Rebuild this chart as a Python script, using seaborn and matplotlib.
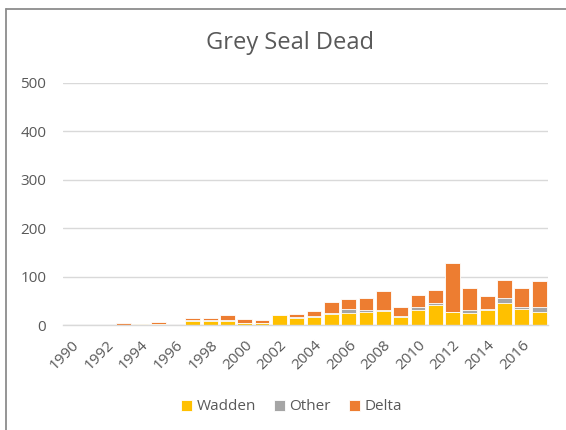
import matplotlib.pyplot as plt
import numpy as np
import pandas as pd
import seaborn as sns
from matplotlib.lines import Line2D

years = list(range(1990, 2018))
wadden = [0, 0, 0, 0, 3, 3, 0, 9, 8, 8, 4, 4, 20, 14, 16, 22, 24, 26, 29, 17, 32, 41, 26, 24, 32, 46, 33, 28]
other = [0, 0, 0, 0, 0, 0, 3, 2, 2, 2, 1, 1, 0, 2, 2, 3, 10, 6, 3, 2, 5, 5, 2, 8, 1, 10, 4, 9]
delta = [0, 0, 0, 4, 0, 3, 0, 3, 4, 10, 7, 5, 1, 7, 12, 23, 20, 24, 38, 19, 25, 26, 100, 45, 27, 38, 39, 55]

COLORS = {"Wadden": "#FFC000", "Other": "#A5A5A5", "Delta": "#ED7D31"}
TEXT = "#595959"
GRID = "#D9D9D9"

df = pd.DataFrame({"year": [str(y) for y in years], "Wadden": wadden, "Other": other, "Delta": delta})
df["wo"] = df["Wadden"] + df["Other"]
df["total"] = df["wo"] + df["Delta"]

sns.set_theme(style="white")
plt.rcParams["font.family"] = ["Open Sans", "DejaVu Sans"]

fig = plt.figure(figsize=(5.66, 4.30), dpi=100)
# chart frame: only top and left edges show in the screenshot
fig.add_artist(Line2D([6 / 566, 1], [1 - 9 / 430, 1 - 9 / 430], color="#8C8C8C", lw=1.3))
fig.add_artist(Line2D([6 / 566, 6 / 566], [0, 1 - 9 / 430], color="#8C8C8C", lw=1.3))

ax = fig.add_axes([0.111, 0.244, 0.857, 0.563])

for col, series in [("total", "Delta"), ("wo", "Other"), ("Wadden", "Wadden")]:
    sns.barplot(data=df, x="year", y=col, color=COLORS[series], width=0.86,
                edgecolor="white", linewidth=0.6, saturation=1, ax=ax, label=series)

ax.set_ylim(0, 500)
ax.set_xlim(-0.5, len(years) - 0.5)
ax.set_yticks(np.arange(0, 501, 100))
ax.yaxis.grid(True, color=GRID, linewidth=1)
ax.set_axisbelow(True)
for side in ["top", "right", "left"]:
    ax.spines[side].set_visible(False)
ax.spines["bottom"].set_color(GRID)
ax.spines["bottom"].set_linewidth(1)
ax.set_xlabel("")
ax.set_ylabel("")

ax.set_xticks(range(len(years)))
ax.set_xticklabels([str(y) if (y - 1990) % 2 == 0 else "" for y in years],
                   rotation=45, ha="right", rotation_mode="anchor")
ax.tick_params(axis="both", length=0, colors=TEXT, labelsize=11)
ax.tick_params(axis="y", pad=12)
ax.tick_params(axis="x", pad=9)

handles, labels = ax.get_legend_handles_labels()
ax.get_legend().remove()

fig.text(0.512, 1 - 43 / 430, "Grey Seal Dead", fontsize=17, color=TEXT, ha="center", va="center")

order = ["Wadden", "Other", "Delta"]
hmap = dict(zip(labels, handles))
fig.legend([hmap[k] for k in order], order, loc="center", bbox_to_anchor=(0.515, 1 - 407 / 430),
           ncol=3, frameon=False, fontsize=11, labelcolor=TEXT,
           handlelength=0.7, handleheight=0.7, handletextpad=0.3, columnspacing=1.2)

fig.savefig("out.png", dpi=100)
